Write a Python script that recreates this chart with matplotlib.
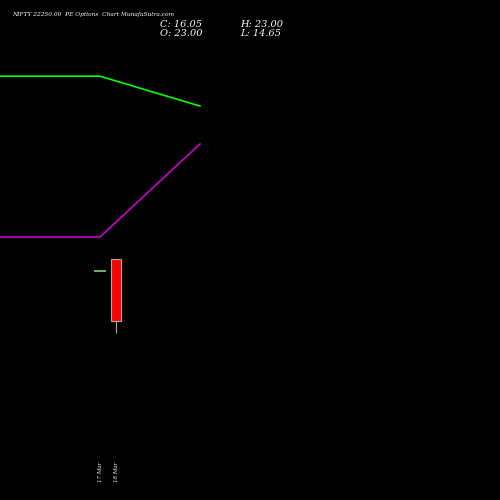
import matplotlib
matplotlib.use("Agg")
import matplotlib.pyplot as plt

dates = ["17 Mar", "18 Mar"]
opens = [21.65, 23.00]
highs = [21.65, 23.00]
lows = [21.65, 14.65]
closes = [21.65, 16.05]
line_x = [-6.25, 0, 6.25]
green_line = [43.5, 43.5, 40.15]
magenta_line = [25.47, 25.47, 35.9]

fig = plt.figure(figsize=(5, 5), dpi=100, facecolor="black")
ax = fig.add_axes([0, 0, 1, 1])
ax.set_facecolor("black")
ax.set_xlim(-6.25, 25)
ax.set_ylim(-4.02, 52.04)
ax.axis("off")

ax.plot(line_x, green_line, color="#00ff00", lw=1.2)
ax.plot(line_x, magenta_line, color="#cc00cc", lw=1.2)

for i, (o, h, l, c) in enumerate(zip(opens, highs, lows, closes)):
    if o == c:
        ax.plot([i - 0.3, i + 0.3], [o, o], color="#66aa66", lw=1.5)
    else:
        ax.vlines(i, l, h, color="#aaaaaa", lw=0.8, zorder=2)
        col = "red" if c < o else "green"
        ax.bar(i, o - c, bottom=c, width=0.6, color=col, edgecolor="#aaaaaa", lw=0.8, zorder=3)
    ax.text(i, -2.0, dates[i], rotation=90, color="white", fontsize=4,
            ha="center", va="bottom", family="DejaVu Serif", style="italic")

fig.text(0.024, 0.971, "NIFTY 22250.00  PE Options  Chart MunafaSutra.com", color="white",
         fontsize=4.2, family="DejaVu Serif", style="italic", va="center")
fig.text(0.32, 0.951, "C: 16.05", color="white", fontsize=7, family="DejaVu Serif", style="italic", va="center")
fig.text(0.32, 0.932, "O: 23.00", color="white", fontsize=7, family="DejaVu Serif", style="italic", va="center")
fig.text(0.48, 0.951, "H: 23.00", color="white", fontsize=7, family="DejaVu Serif", style="italic", va="center")
fig.text(0.48, 0.932, "L: 14.65", color="white", fontsize=7, family="DejaVu Serif", style="italic", va="center")

fig.savefig("out.png", dpi=100, facecolor="black")
